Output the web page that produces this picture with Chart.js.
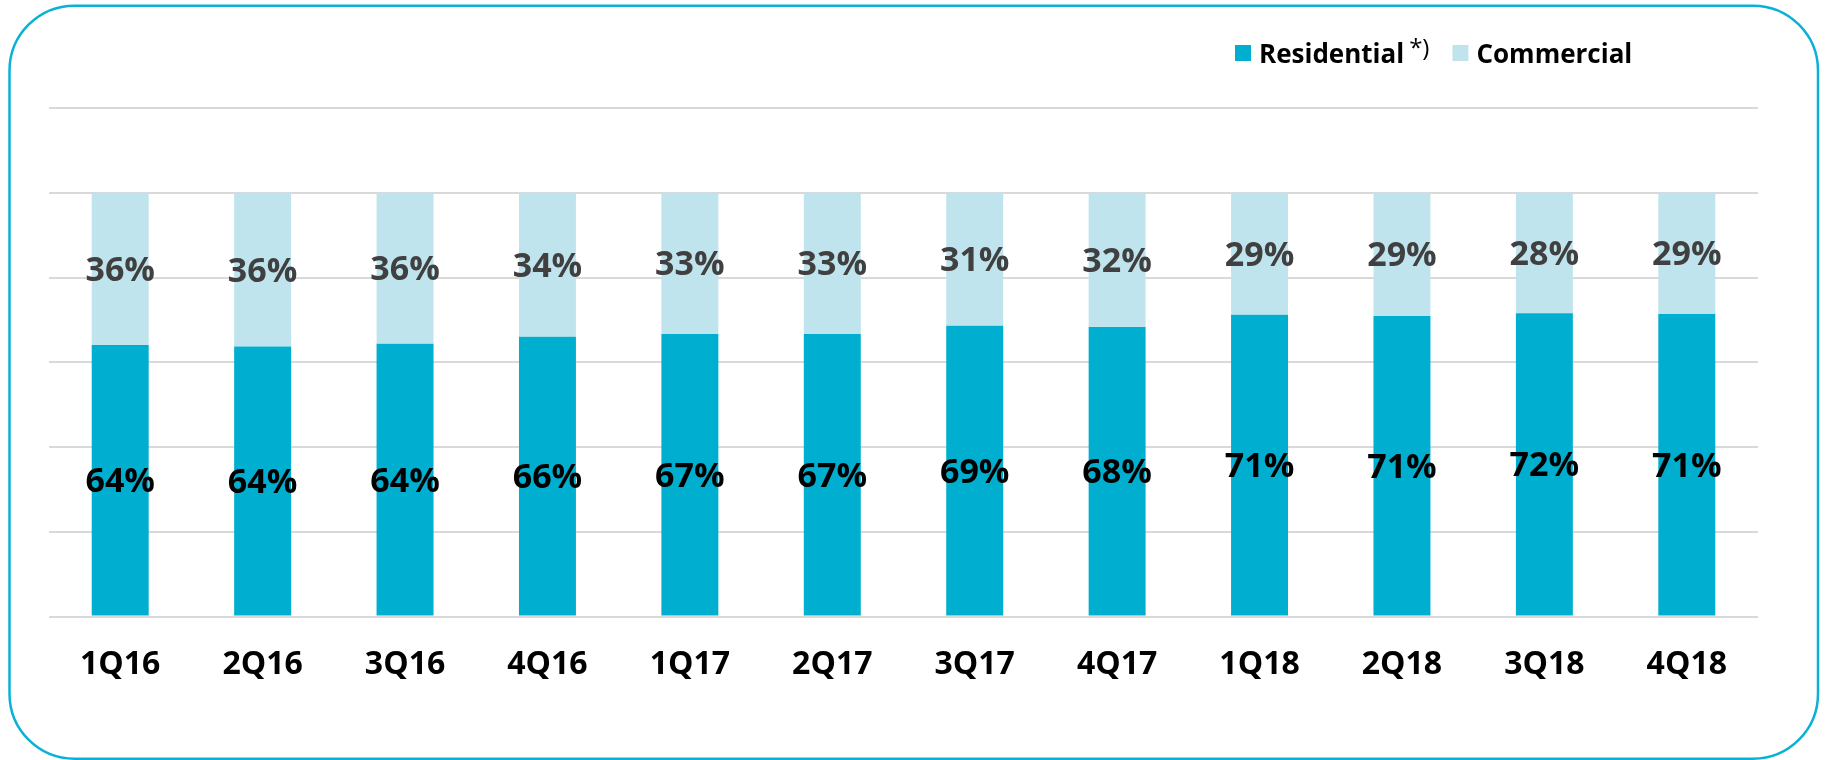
<!DOCTYPE html>
<html>
<head>
<meta charset="utf-8">
<script src="https://cdn.jsdelivr.net/npm/chart.js@4.4.1/dist/chart.umd.min.js"></script>
<style>
  html, body { margin: 0; padding: 0; background: #fff; }
  #wrap { width: 1825px; height: 760px; position: relative; }
</style>
</head>
<body>
<div id="wrap"><canvas id="shareChart" width="1825" height="760"></canvas></div>
<script>
// data (share of total, %)
const quarters = ["1Q16", "2Q16", "3Q16", "4Q16", "1Q17", "2Q17", "3Q17", "4Q17", "1Q18", "2Q18", "3Q18", "4Q18"];
const residential = [64.1, 63.7, 64.4, 66.0, 66.7, 66.7, 68.6, 68.3, 71.2, 70.9, 71.6, 71.4];
const commercial = [35.9, 36.3, 35.6, 34.0, 33.3, 33.3, 31.4, 31.7, 28.8, 29.1, 28.4, 28.6];
const seriesNames = ["Residential", "Commercial"];
const footnoteMarks = ["*)", ""];
const yTicks = [0, 20, 40, 60, 80, 100, 120];

const darkBlue = "#00afd0";
const lightBlue = "#c0e4ed";
const fontName = "'Open Sans', 'Noto Sans', sans-serif";

// rounded frame around the whole chart
const frame = {
  id: "frame",
  beforeDraw(chart) {
    const ctx = chart.ctx;
    ctx.save();
    ctx.strokeStyle = "#0ab1d6";
    ctx.lineWidth = 2.5;
    ctx.beginPath();
    ctx.roundRect(9.5, 5.7, 1808.5, 753, 65);
    ctx.stroke();
    ctx.restore();
  },
};

// percentage in the middle of every segment
const segmentLabels = {
  id: "segmentLabels",
  afterDatasetsDraw(chart) {
    const ctx = chart.ctx;
    ctx.save();
    ctx.textAlign = "center";
    ctx.textBaseline = "alphabetic";
    chart.data.datasets.forEach((ds, i) => {
      const meta = chart.getDatasetMeta(i);
      ctx.font = "bold 34px " + fontName;
      ctx.fillStyle = i === 0 ? "#000000" : "#404040";
      meta.data.forEach((bar, j) => {
        const mid = (bar.y + bar.base) / 2;
        ctx.fillText(Math.round(ds.data[j]) + "%", bar.x, mid + 12);
      });
    });
    ctx.restore();
  },
};

// legend top right, with the footnote mark after Residential
const topLegend = {
  id: "topLegend",
  afterDraw(chart) {
    const ctx = chart.ctx;
    ctx.save();
    let x = 1235;
    const baseY = 63;
    chart.data.datasets.forEach((ds, i) => {
      ctx.fillStyle = ds.backgroundColor;
      ctx.fillRect(x, 45, 16, 16);
      x += 24;
      ctx.font = "bold 26px " + fontName;
      ctx.fillStyle = "#000000";
      ctx.textBaseline = "alphabetic";
      ctx.fillText(ds.label, x, baseY);
      x += ctx.measureText(ds.label).width;
      if (footnoteMarks[i]) {
        x += 5;
        ctx.font = "24px " + fontName;
        ctx.fillText(footnoteMarks[i], x, 56);
        x += ctx.measureText(footnoteMarks[i]).width;
      }
      x += 23;
    });
    ctx.restore();
  },
};

const ctx = document.getElementById("shareChart").getContext("2d");

new Chart(ctx, {
  type: "bar",
  data: {
    labels: quarters,
    datasets: [
      { label: seriesNames[0], data: residential, backgroundColor: darkBlue },
      { label: seriesNames[1], data: commercial, backgroundColor: lightBlue },
    ],
  },
  options: {
    responsive: false,
    devicePixelRatio: 1,
    animation: false,
    layout: { padding: { left: 49, right: 67, top: 108, bottom: 47 } },
    datasets: { bar: { categoryPercentage: 0.8, barPercentage: 0.5 } },
    scales: {
      x: {
        stacked: true,
        grid: { display: false, drawTicks: false },
        border: { display: false },
        ticks: {
          color: "#000000",
          padding: 29,
          font: { family: fontName, size: 32, weight: "bold" },
        },
      },
      y: {
        stacked: true,
        min: yTicks[0],
        max: yTicks[yTicks.length - 1],
        afterBuildTicks(axis) {
          axis.ticks = yTicks.map((v) => ({ value: v }));
        },
        grid: { color: "#d9d9d9", lineWidth: 2, drawTicks: false },
        border: { display: false },
        ticks: { display: false },
      },
    },
    plugins: {
      legend: { display: false },
      tooltip: { enabled: false },
    },
  },
  plugins: [frame, segmentLabels, topLegend],
});
</script>
</body>
</html>
